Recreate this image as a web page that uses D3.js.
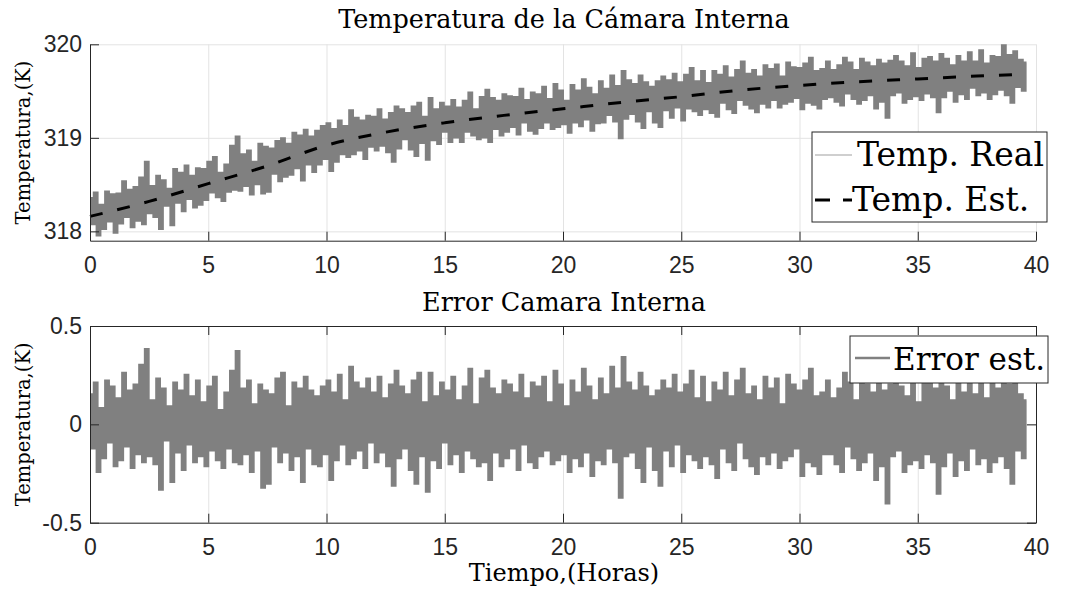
<!DOCTYPE html>
<html>
<head>
<meta charset="utf-8">
<script src="https://cdn.jsdelivr.net/npm/d3@7"></script>
<style>
  body { margin: 0; background: #fff; }
  .axis text { font-family: "Liberation Sans", Arial, sans-serif; font-size: 23px; fill: #262626; }
  .axis path, .axis line { stroke: #262626; stroke-width: 1; }
  .grid line { stroke: #e3e3e3; stroke-width: 1; }
  .grid path { display: none; }
  .serif { font-family: "DejaVu Serif", serif; fill: #000; }
</style>
</head>
<body>
<div class="chart"></div>
<script>
// time span of the samples (hours)
const tStart = 0, tEnd = 39.6;

// estimated temperature (dashed curve), read every 2.5 h
const estTime = [0, 2.5, 5, 7.5, 10, 12.5, 15, 17.5, 20, 22.5, 25, 27.5, 30, 32.5, 35, 37.5, 39.6];
const estTemp = [318.16, 318.32, 318.51, 318.70, 318.92, 319.06, 319.16, 319.24, 319.31, 319.38,
                 319.44, 319.51, 319.56, 319.60, 319.63, 319.66, 319.68];

// measured temperature (K), 331 samples
const realTemp = [
  318.35,318.08,318.41,317.96,318.28,318.03,318.42,318.11,318.39,317.99,318.40,318.09,318.53,318.16,318.44,318.05,318.47,318.12,318.57,318.08,
  318.74,318.20,318.48,318.16,318.59,318.03,318.54,318.28,318.45,318.07,318.66,318.31,318.62,318.22,318.70,318.35,318.59,318.26,318.67,318.29,
  318.66,318.34,318.74,318.42,318.79,318.37,318.62,318.33,318.71,318.43,318.91,318.45,319.01,318.44,318.82,318.49,318.86,318.40,318.74,318.51,
  318.93,318.41,318.90,318.43,318.88,318.62,318.96,318.54,318.99,318.59,318.93,318.61,319.05,318.68,319.02,318.55,319.08,318.72,319.01,318.64,
  319.07,318.72,319.12,318.78,319.15,318.65,319.09,318.75,319.18,318.83,319.12,318.80,319.29,318.83,319.21,318.87,319.18,318.78,319.23,318.91,
  319.22,318.87,319.30,318.92,319.19,318.85,319.26,318.75,319.33,318.89,319.30,318.99,319.26,318.88,319.33,318.81,319.37,318.95,319.22,318.77,
  319.42,318.98,319.30,318.94,319.37,319.07,319.33,318.96,319.40,319.01,319.32,318.96,319.39,319.07,319.48,319.03,319.30,318.99,319.43,319.01,
  319.51,318.96,319.42,319.10,319.39,319.03,319.46,319.07,319.44,319.12,319.43,319.04,319.52,319.17,319.40,319.08,319.48,319.05,319.46,319.11,
  319.54,319.17,319.41,319.10,319.57,319.12,319.50,319.15,319.39,319.06,319.56,319.17,319.50,319.13,319.62,319.20,319.53,319.08,319.46,319.16,
  319.60,319.17,319.52,319.25,319.66,319.18,319.55,319.00,319.71,319.21,319.61,319.26,319.57,319.18,319.66,319.11,319.59,319.29,319.54,319.17,
  319.60,319.12,319.65,319.30,319.61,319.22,319.68,319.33,319.59,319.19,319.67,319.32,319.74,319.29,319.60,319.25,319.71,319.31,319.58,319.27,
  319.71,319.23,319.67,319.38,319.76,319.31,319.64,319.27,319.72,319.41,319.81,319.36,319.68,319.32,319.72,319.28,319.65,319.37,319.77,319.33,
  319.73,319.41,319.78,319.33,319.65,319.37,319.80,319.39,319.75,319.43,319.74,319.31,319.79,319.38,319.85,319.36,319.71,319.32,319.73,319.42,
  319.81,319.44,319.72,319.39,319.77,319.35,319.85,319.48,319.80,319.42,319.72,319.37,319.84,319.41,319.80,319.46,319.76,319.32,319.83,319.39,
  319.79,319.22,319.82,319.46,319.87,319.49,319.81,319.38,319.76,319.42,319.90,319.45,319.74,319.41,319.84,319.48,319.86,319.44,319.81,319.28,
  319.89,319.44,319.84,319.51,319.77,319.39,319.87,319.47,319.81,319.42,319.91,319.54,319.81,319.46,319.93,319.49,319.79,319.42,319.87,319.47,
  319.86,319.52,320.00,319.46,319.88,319.38,319.92,319.55,319.83,319.51,319.80
];

// estimation error (K), same 331 samples
const errEst = [
  .15,-.12,.21,-.24,.08,-.17,.22,-.09,.19,-.21,.13,-.18,.26,-.11,.17,-.22,.20,-.15,.30,-.19,
  .38,-.16,.12,-.20,.23,-.33,.18,-.08,.09,-.29,.21,-.14,.17,-.23,.25,-.10,.14,-.19,.22,-.16,
  .11,-.21,.19,-.13,.24,-.18,.07,-.22,.16,-.12,.27,-.19,.37,-.20,.18,-.15,.22,-.24,.10,-.13,
  .20,-.32,.17,-.30,.15,-.11,.23,-.19,.26,-.14,.09,-.23,.21,-.16,.18,-.29,.24,-.12,.17,-.20,
  .14,-.21,.19,-.15,.22,-.28,.16,-.18,.25,-.10,.12,-.20,.29,-.17,.21,-.13,.18,-.22,.23,-.09,
  .16,-.19,.24,-.14,.13,-.21,.20,-.31,.27,-.17,.19,-.12,.15,-.23,.22,-.30,.26,-.16,.11,-.34,
  .26,-.18,.14,-.22,.21,-.09,.17,-.20,.24,-.15,.12,-.24,.19,-.13,.28,-.17,.10,-.21,.23,-.19,
  .27,-.28,.18,-.14,.15,-.21,.22,-.17,.20,-.12,.16,-.23,.25,-.10,.13,-.19,.21,-.22,.19,-.16,
  .24,-.13,.11,-.20,.27,-.18,.20,-.15,.09,-.24,.22,-.17,.16,-.21,.28,-.14,.19,-.26,.12,-.18,
  .23,-.20,.15,-.12,.29,-.19,.18,-.37,.34,-.16,.21,-.14,.17,-.22,.26,-.29,.19,-.11,.14,-.23,
  .17,-.31,.22,-.13,.18,-.21,.25,-.10,.16,-.24,.20,-.15,.27,-.18,.13,-.22,.24,-.16,.11,-.20,
  .21,-.27,.17,-.12,.26,-.19,.14,-.23,.22,-.09,.28,-.17,.15,-.21,.19,-.25,.12,-.16,.24,-.20,
  .18,-.14,.23,-.22,.10,-.18,.25,-.16,.20,-.12,.17,-.26,.22,-.19,.28,-.21,.14,-.25,.16,-.15,
  .22,-.15,.13,-.20,.18,-.24,.26,-.11,.21,-.17,.12,-.23,.24,-.19,.20,-.14,.16,-.28,.23,-.21,
  .17,-.40,.20,-.16,.25,-.13,.19,-.24,.14,-.20,.27,-.18,.11,-.22,.21,-.15,.23,-.19,.18,-.35,
  .24,-.21,.19,-.14,.12,-.26,.22,-.18,.16,-.23,.25,-.12,.15,-.20,.27,-.17,.13,-.24,.21,-.19,
  .18,-.16,.32,-.22,.20,-.30,.24,-.13,.15,-.17,.12
];

const xTicks = [0, 5, 10, 15, 20, 25, 30, 35, 40];
const yTicksTop = [318, 319, 320];
const yTicksBottom = [-0.5, 0, 0.5];

const W = 1076, H = 594;
const left = 90, right = 1036;
const top1 = 44.3, bot1 = 240.7;
const top2 = 326, bot2 = 522.7;

const sampleTime = i => tStart + i * (tEnd - tStart) / (realTemp.length - 1);

const svg = d3.select(".chart").append("svg")
  .attr("width", W).attr("height", H);

const x = d3.scaleLinear().domain([0, 40]).range([left, right]);
const y1 = d3.scaleLinear().domain([317.9, 320]).range([bot1, top1]);
const y2 = d3.scaleLinear().domain([-0.5, 0.5]).range([bot2, top2]);

svg.append("defs").selectAll("clipPath")
  .data([["c1", top1, bot1], ["c2", top2, bot2]])
  .enter().append("clipPath").attr("id", d => d[0])
  .append("rect")
  .attr("x", left).attr("y", d => d[1])
  .attr("width", right - left).attr("height", d => d[2] - d[1]);

function grid(yScale, yTicks, y0, y1v) {
  svg.append("g").attr("class", "grid")
    .attr("transform", `translate(0,${y0})`)
    .call(d3.axisBottom(x).tickValues(xTicks).tickSize(-(y0 - y1v)).tickFormat(""));
  svg.append("g").attr("class", "grid")
    .attr("transform", `translate(${left},0)`)
    .call(d3.axisLeft(yScale).tickValues(yTicks).tickSize(-(right - left)).tickFormat(""));
}

// ---------- top panel ----------
grid(y1, yTicksTop, bot1, top1);

svg.append("path")
  .datum(realTemp)
  .attr("clip-path", "url(#c1)")
  .attr("fill", "none")
  .attr("stroke", "#808080")
  .attr("stroke-width", 3)
  .attr("d", d3.line().x((d, i) => x(sampleTime(i))).y(d => y1(d)).curve(d3.curveStep));

svg.append("path")
  .datum(estTime.map((t, i) => [t, estTemp[i]]))
  .attr("fill", "none")
  .attr("stroke", "#000")
  .attr("stroke-width", 3)
  .attr("stroke-dasharray", "13,15")
  .attr("d", d3.line().x(d => x(d[0])).y(d => y1(d[1])).curve(d3.curveMonotoneX));

svg.append("g").attr("class", "axis")
  .attr("transform", `translate(0,${bot1})`)
  .call(d3.axisBottom(x).tickValues(xTicks).tickSize(-9).tickSizeOuter(0).tickPadding(16));
svg.append("g").attr("class", "axis")
  .attr("transform", `translate(${left},0)`)
  .call(d3.axisLeft(y1).tickValues(yTicksTop).tickSize(-9).tickSizeOuter(0).tickPadding(8)
    .tickFormat(d3.format("d")));

svg.append("text").attr("class", "serif")
  .attr("x", 564).attr("y", 28)
  .attr("text-anchor", "middle").attr("font-size", 25.5)
  .text("Temperatura de la Cámara Interna");

svg.append("text").attr("class", "serif")
  .attr("transform", `translate(30,${(top1 + bot1) / 2}) rotate(-90)`)
  .attr("text-anchor", "middle").attr("font-size", 19.5)
  .text("Temperatura,(K)");

// legend top
const lg1 = svg.append("g");
lg1.append("rect").attr("x", 812).attr("y", 132).attr("width", 235).attr("height", 90)
  .attr("fill", "#fff").attr("stroke", "#262626").attr("stroke-width", 1);
lg1.append("line").attr("x1", 815).attr("x2", 852).attr("y1", 155).attr("y2", 155)
  .attr("stroke", "#a0a0a0").attr("stroke-width", 1.2);
lg1.append("text").attr("class", "serif").attr("x", 857).attr("y", 166)
  .attr("font-size", 33).text("Temp. Real");
lg1.append("line").attr("x1", 815).attr("x2", 852).attr("y1", 200).attr("y2", 200)
  .attr("stroke", "#000").attr("stroke-width", 3).attr("stroke-dasharray", "15,13");
lg1.append("text").attr("class", "serif").attr("x", 852).attr("y", 211)
  .attr("font-size", 33).text("Temp. Est.");

// ---------- bottom panel ----------
grid(y2, yTicksBottom, bot2, top2);

svg.append("path")
  .datum(errEst)
  .attr("clip-path", "url(#c2)")
  .attr("fill", "none")
  .attr("stroke", "#808080")
  .attr("stroke-width", 3)
  .attr("d", d3.line().x((d, i) => x(sampleTime(i))).y(d => y2(d)).curve(d3.curveStep));

svg.append("g").attr("class", "axis")
  .attr("transform", `translate(0,${bot2})`)
  .call(d3.axisBottom(x).tickValues(xTicks).tickSize(-9).tickSizeOuter(0).tickPadding(16));
svg.append("g").attr("class", "axis")
  .attr("transform", `translate(0,${top2})`)
  .call(d3.axisTop(x).tickValues(xTicks).tickSize(-9).tickSizeOuter(0).tickFormat(""));
svg.append("g").attr("class", "axis")
  .attr("transform", `translate(${left},0)`)
  .call(d3.axisLeft(y2).tickValues(yTicksBottom).tickSize(-9).tickSizeOuter(0).tickPadding(8)
    .tickFormat(d => d === 0 ? "0" : d3.format(".1f")(d).replace("−", "-")));
svg.append("g").attr("class", "axis")
  .attr("transform", `translate(${right},0)`)
  .call(d3.axisRight(y2).tickValues(yTicksBottom).tickSize(-9).tickSizeOuter(0).tickFormat(""));

svg.append("text").attr("class", "serif")
  .attr("x", 564).attr("y", 311)
  .attr("text-anchor", "middle").attr("font-size", 25.5)
  .text("Error Camara Interna");

svg.append("text").attr("class", "serif")
  .attr("transform", `translate(30,${(top2 + bot2) / 2}) rotate(-90)`)
  .attr("text-anchor", "middle").attr("font-size", 19.5)
  .text("Temperatura,(K)");

svg.append("text").attr("class", "serif")
  .attr("x", 564).attr("y", 581)
  .attr("text-anchor", "middle").attr("font-size", 24)
  .text("Tiempo,(Horas)");

// legend bottom
const lg2 = svg.append("g");
lg2.append("rect").attr("x", 850).attr("y", 336).attr("width", 198).attr("height", 47)
  .attr("fill", "#fff").attr("stroke", "#262626").attr("stroke-width", 1);
lg2.append("line").attr("x1", 855).attr("x2", 890).attr("y1", 358).attr("y2", 358)
  .attr("stroke", "#808080").attr("stroke-width", 2.5);
lg2.append("text").attr("class", "serif").attr("x", 893).attr("y", 370)
  .attr("font-size", 31).text("Error est.");
</script>
</body>
</html>
